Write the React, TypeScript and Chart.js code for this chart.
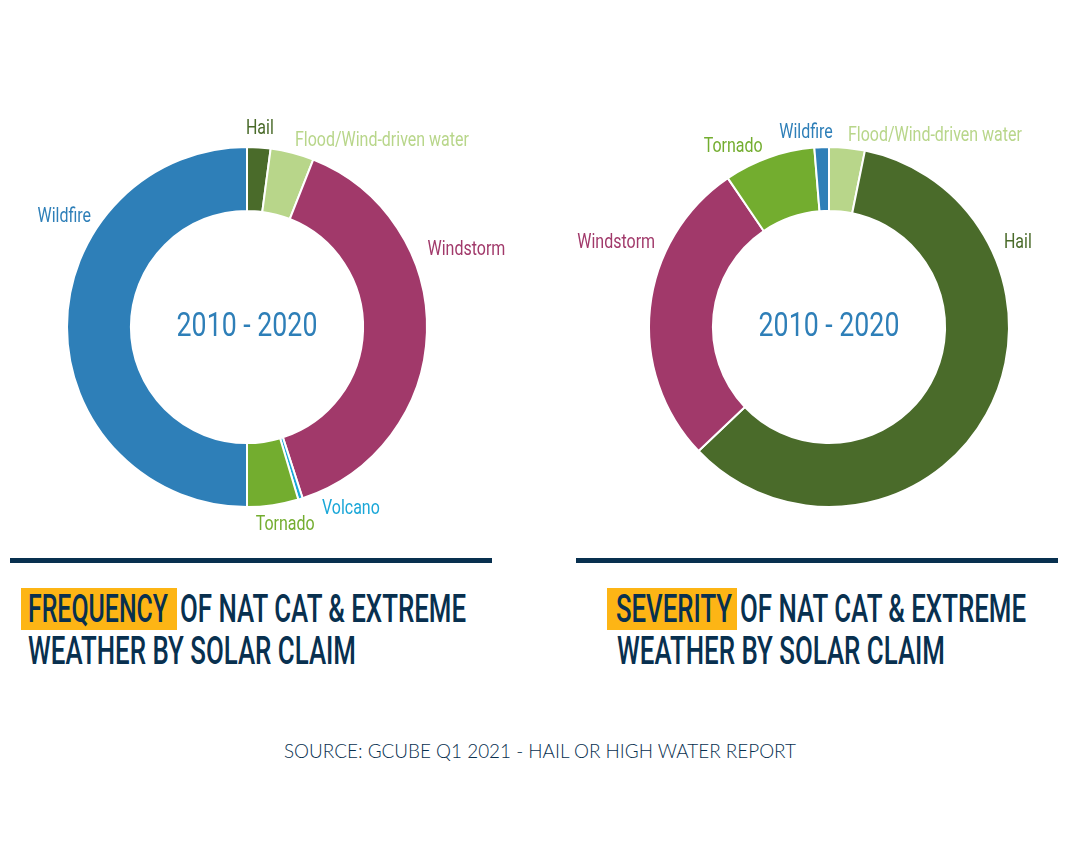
import React, { useEffect, useLayoutEffect, useRef } from "react";
import { Chart, registerables } from "chart.js";
Chart.register(...registerables);

// ---------- DATA ----------
const centerText = "2010 - 2020";

const freqCategories = ["Hail", "Flood/Wind-driven water", "Windstorm", "Volcano", "Tornado", "Wildfire"];
const freqValues = [2.1, 3.9, 39.0, 0.4, 4.6, 50.0];
const freqColors = ["#4a6b2a", "#b8d68a", "#a1396a", "#1aa7d8", "#73ad2f", "#2e7fb8"];

const sevCategories = ["Flood/Wind-driven water", "Hail", "Windstorm", "Tornado", "Wildfire"];
const sevValues = [3.2, 59.7, 27.6, 8.2, 1.3];
const sevColors = ["#b8d68a", "#4a6b2a", "#a1396a", "#73ad2f", "#2e7fb8"];

// label placement (angle clockwise from top in degrees, distance from centre, alignment)
const freqLabelAngles = [3.7, 14.3, 66.4, 157.4, 169, 305.7];
const freqLabelDist = [200, 194, 197, 195, 200, 192];
const freqLabelAlign = ["center", "left", "left", "left", "center", "right"];
const sevLabelAngles = [5.6, 63.8, 296.3, 340, 353.3];
const sevLabelDist = [194, 195, 194, 194, 197];
const sevLabelAlign = ["left", "left", "right", "right", "center"];

const freqTitleHighlight = "FREQUENCY";
const sevTitleHighlight = "SEVERITY";
const titleRest = "OF NAT CAT & EXTREME";
const titleLine2 = "WEATHER BY SOLAR CLAIM";
const sourceText = "SOURCE: GCUBE Q1 2021 - HAIL OR HIGH WATER REPORT";

const NAVY = "#08304f";
const ORANGE = "#fdb515";

function makeLabelPlugin(angles: number[], dists: number[], aligns: string[], colors: string[]) {
  return {
    id: "outLabels",
    afterDraw(chart: any) {
      const arc = chart.getDatasetMeta(0).data[0];
      if (!arc) return;
      const cx = arc.x, cy = arc.y;
      const ctx = chart.ctx;
      const labels = chart.data.labels as string[];
      ctx.save();
      ctx.textBaseline = "middle";
      ctx.font = '19.5px Roboto, "Liberation Sans Narrow", sans-serif';
      labels.forEach((lab, i) => {
        const a = (angles[i] * Math.PI) / 180;
        const x = cx + dists[i] * Math.sin(a);
        const y = cy - dists[i] * Math.cos(a) + 2;
        ctx.save();
        ctx.translate(x, y);
        ctx.scale(0.82, 1);
        ctx.textAlign = aligns[i];
        ctx.fillStyle = colors[i];
        ctx.fillText(lab, 0, 0);
        ctx.restore();
      });
      ctx.save();
      ctx.translate(cx, cy + 1);
      ctx.scale(0.81, 1);
      ctx.font = '33px Roboto, "Liberation Sans Narrow", sans-serif';
      ctx.textAlign = "center";
      ctx.fillStyle = "#2e7fb8";
      ctx.fillText(centerText, 0, 0);
      ctx.restore();
      ctx.restore();
    },
  };
}

function Doughnut(props: {
  left: number; top: number; width: number; height: number;
  labels: string[]; values: number[]; colors: string[];
  angles: number[]; dists: number[]; aligns: string[];
}) {
  const ref = useRef<HTMLCanvasElement>(null);
  useEffect(() => {
    if (!ref.current) return;
    const chart = new Chart(ref.current, {
      type: "doughnut",
      data: {
        labels: props.labels,
        datasets: [
          {
            data: props.values,
            backgroundColor: props.colors,
            borderColor: "#ffffff",
            borderWidth: 2,
            hoverOffset: 0,
          },
        ],
      },
      options: {
        responsive: false,
        animation: false,
        events: [],
        radius: 180,
        cutout: "64.5%",
        rotation: 0,
        layout: { padding: 0 },
        plugins: { legend: { display: false }, tooltip: { enabled: false } },
      } as any,
      plugins: [makeLabelPlugin(props.angles, props.dists, props.aligns, props.colors)],
    });
    return () => chart.destroy();
  }, []);
  return (
    <canvas
      ref={ref}
      width={props.width}
      height={props.height}
      style={{ position: "absolute", left: props.left, top: props.top, width: props.width, height: props.height }}
    />
  );
}

function FitText(props: {
  x: number; y: number; w: number; size: number; weight: number; family: string;
  color: string; text: string;
}) {
  const ref = useRef<HTMLSpanElement>(null);
  useLayoutEffect(() => {
    const fit = () => {
      const el = ref.current;
      if (!el) return;
      el.style.transform = "none";
      const nat = el.getBoundingClientRect().width;
      if (nat > 0) el.style.transform = `scaleX(${props.w / nat})`;
    };
    fit();
    (document as any).fonts?.ready?.then(fit);
  }, [props.w, props.text]);
  return (
    <span
      ref={ref}
      style={{
        position: "absolute",
        left: props.x,
        top: props.y,
        fontSize: props.size,
        fontWeight: props.weight,
        fontFamily: props.family,
        color: props.color,
        whiteSpace: "nowrap",
        lineHeight: `${props.size}px`,
        transformOrigin: "0 0",
      }}
    >
      {props.text}
    </span>
  );
}

export default function App() {
  useEffect(() => {
    document.body.style.margin = "0";
  }, []);
  const titleFont = 'Roboto, "Liberation Sans Narrow", sans-serif';
  return (
    <div style={{ position: "relative", width: 1080, height: 864, overflow: "hidden", background: "#ffffff" }}>
      <Doughnut
        left={-23} top={87} width={540} height={480}
        labels={freqCategories} values={freqValues} colors={freqColors}
        angles={freqLabelAngles} dists={freqLabelDist} aligns={freqLabelAlign}
      />
      <Doughnut
        left={570} top={87} width={518} height={480}
        labels={sevCategories} values={sevValues} colors={sevColors}
        angles={sevLabelAngles} dists={sevLabelDist} aligns={sevLabelAlign}
      />

      <div style={{ position: "absolute", left: 10, top: 558, width: 482, height: 5, background: NAVY }} />
      <div style={{ position: "absolute", left: 576, top: 558, width: 482, height: 5, background: NAVY }} />

      <div style={{ position: "absolute", left: 21, top: 588, width: 156, height: 42, background: ORANGE }} />
      <FitText x={28} y={590} w={140} size={38} weight={500} family={titleFont} color={NAVY} text={freqTitleHighlight} />
      <FitText x={180} y={590} w={286} size={38} weight={500} family={titleFont} color={NAVY} text={titleRest} />
      <FitText x={28} y={632} w={328} size={38} weight={500} family={titleFont} color={NAVY} text={titleLine2} />

      <div style={{ position: "absolute", left: 607, top: 588, width: 130, height: 42, background: ORANGE }} />
      <FitText x={616} y={590} w={116} size={38} weight={500} family={titleFont} color={NAVY} text={sevTitleHighlight} />
      <FitText x={740} y={590} w={286} size={38} weight={500} family={titleFont} color={NAVY} text={titleRest} />
      <FitText x={617} y={632} w={328} size={38} weight={500} family={titleFont} color={NAVY} text={titleLine2} />

      <FitText x={284} y={741} w={512} size={19} weight={300} family={'Lato, "Open Sans", sans-serif'} color={NAVY} text={sourceText} />
    </div>
  );
}
